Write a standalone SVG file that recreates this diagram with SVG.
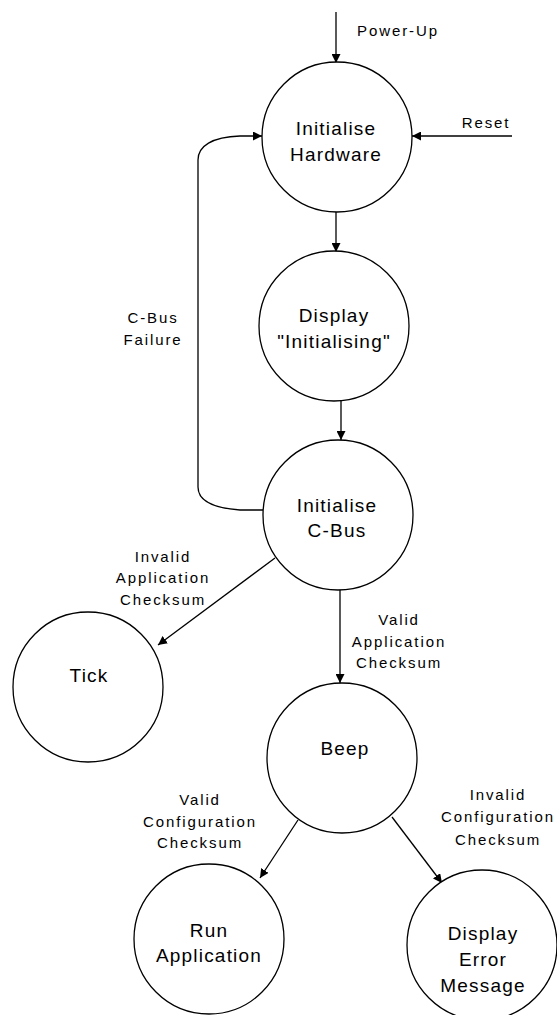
<svg xmlns="http://www.w3.org/2000/svg" width="557" height="1015" viewBox="0 0 557 1015">
<style>
.node circle{fill:#fff;stroke:#000;stroke-width:1.3}
.nt{font-family:"Liberation Sans",Arial,sans-serif;font-size:19px;letter-spacing:1.2px;text-anchor:middle;fill:#000}
.et{font-family:"Liberation Sans",Arial,sans-serif;font-size:15px;letter-spacing:1.9px;text-anchor:middle;fill:#000}
.edges path{fill:none;stroke:#000;stroke-width:1.3;marker-end:url(#ah)}
</style>
<defs>
<marker id="ah" markerUnits="userSpaceOnUse" markerWidth="10" markerHeight="9" refX="9" refY="4.5" orient="auto">
<path d="M0,0 L9,4.5 L0,9 z" fill="#000"/>
</marker>
</defs>
<rect width="557" height="1015" fill="#fff"/>
<g class="edges" id="connectors">
<path d="M336,12 L336,63"/>
<path d="M512,136 L412,136"/>
<path d="M336,212 L336,252"/>
<path d="M341,401 L341,440"/>
<path d="M263,510 L240,510 C212,508 198,500 198,487 L198,160 C198,146 212,137 240,136 L262,136"/>
<path d="M275,558 L158,645"/>
<path d="M340,590 L340,683"/>
<path d="M298,820 L260,878"/>
<path d="M392,817 L442,883"/>
</g>
<g id="labels">
<text class="et" x="398" y="36">Power-Up</text>
<text class="et" x="486" y="128">Reset</text>
<text class="et" x="153" y="323">C-Bus</text>
<text class="et" x="153" y="345">Failure</text>
<text class="et" x="163" y="562">Invalid</text>
<text class="et" x="163" y="583">Application</text>
<text class="et" x="163" y="605">Checksum</text>
<text class="et" x="399" y="625">Valid</text>
<text class="et" x="399" y="647">Application</text>
<text class="et" x="399" y="668">Checksum</text>
<text class="et" x="200" y="805">Valid</text>
<text class="et" x="200" y="827">Configuration</text>
<text class="et" x="200" y="848">Checksum</text>
<text class="et" x="498" y="800">Invalid</text>
<text class="et" x="498" y="822">Configuration</text>
<text class="et" x="498" y="845">Checksum</text>
</g>
<g class="node" id="init-hw">
<circle cx="337" cy="137" r="75"/>
<text class="nt" x="336" y="135">Initialise</text>
<text class="nt" x="336" y="161">Hardware</text>
</g>
<g class="node" id="display-init">
<circle cx="334" cy="326" r="75"/>
<text class="nt" x="334" y="322">Display</text>
<text class="nt" x="334" y="348">"Initialising"</text>
</g>
<g class="node" id="init-cbus">
<circle cx="338" cy="515" r="75"/>
<text class="nt" x="337" y="512">Initialise</text>
<text class="nt" x="337" y="537">C-Bus</text>
</g>
<g class="node" id="tick">
<circle cx="88" cy="687" r="75"/>
<text class="nt" x="89" y="682">Tick</text>
</g>
<g class="node" id="beep">
<circle cx="342" cy="758" r="75"/>
<text class="nt" x="345" y="755">Beep</text>
</g>
<g class="node" id="run-app">
<circle cx="209" cy="939" r="75"/>
<text class="nt" x="209" y="937">Run</text>
<text class="nt" x="209" y="962">Application</text>
</g>
<g class="node" id="display-error">
<circle cx="482" cy="945" r="75"/>
<text class="nt" x="483" y="940">Display</text>
<text class="nt" x="483" y="966">Error</text>
<text class="nt" x="483" y="992">Message</text>
</g>
</svg>
